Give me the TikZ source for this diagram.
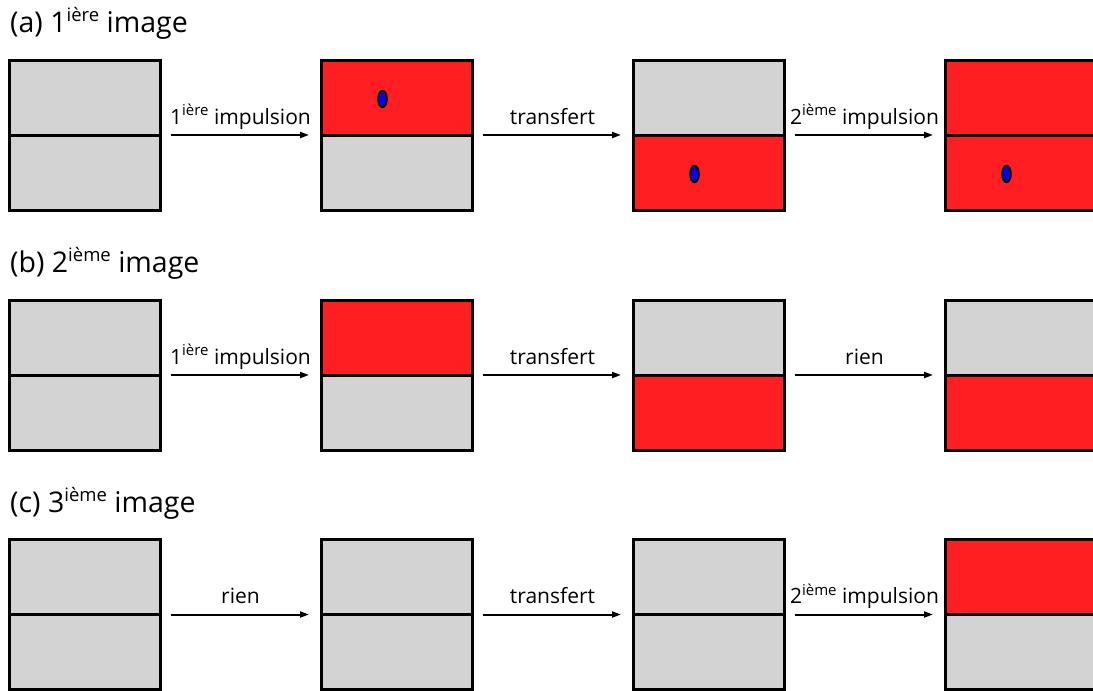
\documentclass[tikz,border=0pt]{standalone}
\usepackage{fontspec}
\setmainfont{Open Sans}
\usetikzlibrary{arrows.meta,shapes.geometric}
\definecolor{cellgray}{RGB}{211,211,211}
\definecolor{cellred}{RGB}{255,30,34}
\definecolor{dotblue}{RGB}{0,0,255}
\newcommand{\esup}[3]{\raisebox{#1pt}{\fontsize{#2}{#2}\selectfont #3}}
\newcommand{\tsup}[1]{\esup{11}{18.5}{#1}}
\newcommand{\lsup}[1]{\esup{8.5}{15}{#1}}
\tikzset{
  half/.style={draw=black, line width=3pt, rectangle, minimum width=151pt, minimum height=75pt, inner sep=0pt, outer sep=0pt},
  off/.style={half, fill=cellgray},
  on/.style={half, fill=cellred},
  dot/.style={draw=black, line width=2pt, ellipse, fill=dotblue, minimum width=8.5pt, minimum height=16.5pt, inner sep=0pt},
  arr/.style={line width=2pt, -{Triangle[length=9pt,width=6pt]}, shorten <=11pt, shorten >=12pt},
  lbl/.style={font=\fontsize{21}{25}\selectfont, anchor=base, yshift=11pt, inner sep=0pt},
  ttl/.style={font=\fontsize{28.5}{32}\selectfont, anchor=base west, inner sep=0pt},
}
\begin{document}
\begin{tikzpicture}[x=1pt,y=-1pt]
\clip (0,0) rectangle (1093,691);
\fill[white] (0,0) rectangle (1093,691);
% titles
\node[ttl] (ta) at (10,32) {(a) 1\tsup{ière} image};
\node[ttl] (tb) at (10,272) {(b) 2\tsup{ième} image};
\node[ttl] (tc) at (10,512) {(c) 3\tsup{ième} image};
% row a
\node[off] (a1t) at (84.5,97.5) {};
\node[off] (a1b) at (84.5,172.5) {};
\node[on]  (a2t) at (396.5,97.5) {};
\node[off] (a2b) at (396.5,172.5) {};
\node[off] (a3t) at (708.5,97.5) {};
\node[on]  (a3b) at (708.5,172.5) {};
\node[on]  (a4t) at (1020.5,97.5) {};
\node[on]  (a4b) at (1020.5,172.5) {};
\node[dot] (d1) at ([xshift=-14pt,yshift=-1.5pt]a2t.center) {};
\node[dot] (d2) at ([xshift=-14pt,yshift=-1.5pt]a3b.center) {};
\node[dot] (d3) at ([xshift=-14pt,yshift=-1.5pt]a4b.center) {};
\draw[arr] (a1t.south east) -- (a2t.south west) node[lbl,pos=0.5] {1\lsup{ière} impulsion};
\draw[arr] (a2t.south east) -- (a3t.south west) node[lbl,pos=0.5] {transfert};
\draw[arr] (a3t.south east) -- (a4t.south west) node[lbl,pos=0.5] {2\lsup{ième} impulsion};
% row b
\node[off] (b1t) at (84.5,337.5) {};
\node[off] (b1b) at (84.5,412.5) {};
\node[on]  (b2t) at (396.5,337.5) {};
\node[off] (b2b) at (396.5,412.5) {};
\node[off] (b3t) at (708.5,337.5) {};
\node[on]  (b3b) at (708.5,412.5) {};
\node[off] (b4t) at (1020.5,337.5) {};
\node[on]  (b4b) at (1020.5,412.5) {};
\draw[arr] (b1t.south east) -- (b2t.south west) node[lbl,pos=0.5] {1\lsup{ière} impulsion};
\draw[arr] (b2t.south east) -- (b3t.south west) node[lbl,pos=0.5] {transfert};
\draw[arr] (b3t.south east) -- (b4t.south west) node[lbl,pos=0.5] {rien};
% row c
\node[off] (c1t) at (84.5,577) {};
\node[off] (c1b) at (84.5,652) {};
\node[off] (c2t) at (396.5,577) {};
\node[off] (c2b) at (396.5,652) {};
\node[off] (c3t) at (708.5,577) {};
\node[off] (c3b) at (708.5,652) {};
\node[on]  (c4t) at (1020.5,577) {};
\node[off] (c4b) at (1020.5,652) {};
\draw[arr] (c1t.south east) -- (c2t.south west) node[lbl,pos=0.5] {rien};
\draw[arr] (c2t.south east) -- (c3t.south west) node[lbl,pos=0.5] {transfert};
\draw[arr] (c3t.south east) -- (c4t.south west) node[lbl,pos=0.5] {2\lsup{ième} impulsion};
\end{tikzpicture}
\end{document}
